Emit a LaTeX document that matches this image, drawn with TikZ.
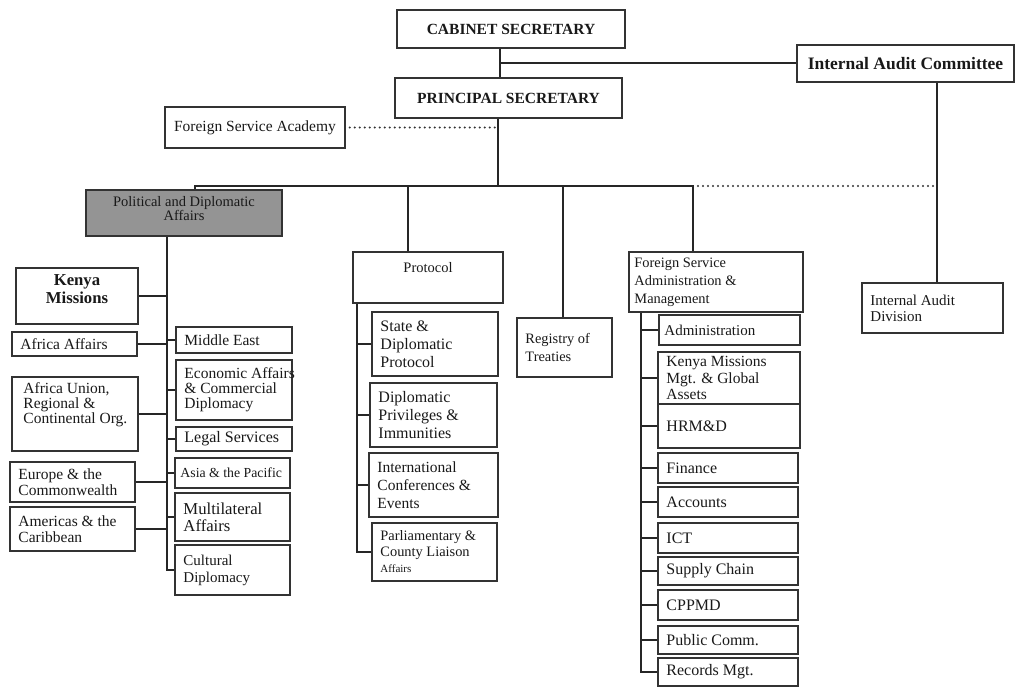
\documentclass[tikz,border=0pt]{standalone}
\usepackage{fontspec}
\setmainfont{Liberation Serif}
\newcommand\fsz[2]{\fontsize{#1}{#2}\selectfont}
\tikzset{
  box/.style={draw=black!80, line width=1.5pt, fill=white, inner sep=0pt},
  txt/.style={inner sep=0pt, align=left, text=black!90, font=\fsz{15.5}{16}},
  conn/.style={draw=black!85, line width=1.8pt},
  dots/.style={draw=black!80, line width=2.2pt, line cap=round, dash pattern=on 0pt off 5pt}
}
% box with left-aligned text
\newcommand\ubox[7][]{%
  \node[box, minimum width={(#5-#3)*1pt}, minimum height={(#6-#4)*1pt}] (#2) at ({(#3+#5)/2},{(#4+#6)/2}) {};
  \node[txt, anchor=west, #1] (#2-t) at ([xshift=9pt]#2.west) {#7};}
% box with centred text
\newcommand\cbox[7][]{%
  \node[box, minimum width={(#5-#3)*1pt}, minimum height={(#6-#4)*1pt}] (#2) at ({(#3+#5)/2},{(#4+#6)/2}) {};
  \node[txt, align=center, #1] (#2-t) at (#2.center) {#7};}
\begin{document}
\begin{tikzpicture}[x=1pt,y=-1pt]
\useasboundingbox[fill=white] (0,0) rectangle (1016,689);

% top level
\cbox[font=\bfseries\fsz{15.5}{17}]{cab}{397}{10}{625}{48}{CABINET SECRETARY}
\cbox[font=\bfseries\fsz{15.5}{17}]{ps}{395}{78}{622}{118}{PRINCIPAL SECRETARY}
\cbox[font=\bfseries\fsz{17.5}{19}]{iac}{797}{45}{1014}{82}{Internal Audit Committee}
\cbox[font=\fsz{15.5}{17}]{fsa}{165}{107}{345}{148}{Foreign Service Academy}

% Political and Diplomatic Affairs
\node[box, fill=black!42, minimum width=196pt, minimum height=46pt] (pda) at (184,213) {};
\node[txt, align=center, font=\fsz{14.5}{14}, yshift=4pt] (pda-t) at (pda.center) {Political and Diplomatic\\Affairs};
\cbox[font=\bfseries\fsz{16.7}{17.5}, yshift=7pt]{km}{16}{268}{138}{324}{Kenya\\Missions}
\ubox{afa}{12}{332}{137}{356}{Africa Affairs}
\ubox[yshift=9pt, xshift=3pt, font=\fsz{15.5}{15}]{au}{12}{377}{138}{451}{Africa Union,\\Regional \&\\Continental Org.}
\ubox{eur}{10}{462}{135}{502}{Europe \& the\\Commonwealth}
\ubox{am}{10}{507}{135}{551}{Americas \& the\\Caribbean}
\ubox{me}{176}{327}{292}{353}{Middle East}
\ubox[font=\fsz{15.5}{15}]{eco}{176}{360}{292}{420}{Economic Affairs\\\& Commercial\\Diplomacy}
\ubox[font=\fsz{16}{16}]{leg}{176}{427}{292}{451}{Legal Services}
\ubox[font=\fsz{13.8}{14}, xshift=-3pt]{asia}{175}{458}{290}{488}{Asia \& the Pacific}
\ubox[font=\fsz{16.7}{17}]{mul}{175}{493}{290}{541}{Multilateral\\Affairs}
\ubox[font=\fsz{15}{17}]{cul}{175}{545}{290}{595}{Cultural\\Diplomacy}

% Protocol
\cbox[font=\fsz{14.5}{15}, yshift=10pt]{prot}{353}{252}{503}{303}{Protocol}
\ubox[font=\fsz{16}{18}]{sdp}{372}{312}{498}{376}{State \&\\Diplomatic\\Protocol}
\ubox[font=\fsz{16}{18}]{dpi}{370}{383}{497}{447}{Diplomatic\\Privileges \&\\Immunities}
\ubox[font=\fsz{15.5}{18}]{ice}{369}{453}{498}{517}{International\\Conferences \&\\Events}
\ubox[font=\fsz{14.4}{16}]{pcl}{372}{523}{497}{581}{Parliamentary \&\\County Liaison\\{\fsz{11}{12}Affairs}}
\ubox[font=\fsz{14.4}{18}]{reg}{517}{318}{612}{377}{Registry of\\Treaties}

% Foreign Service Administration & Management
\ubox[font=\fsz{14.4}{18}, xshift=-3pt]{fsam}{629}{252}{803}{312}{Foreign Service\\Administration \&\\Management}
\ubox[font=\fsz{15}{16}, xshift=-3pt]{adm}{659}{315}{800}{345}{Administration}
\ubox[font=\fsz{15.5}{16.5}]{kmm}{658}{352}{800}{404}{Kenya Missions\\Mgt. \& Global\\Assets}
\ubox[font=\fsz{16}{17}]{hrm}{658}{404}{800}{448}{HRM\&D}
\ubox[font=\fsz{16}{17}]{fin}{658}{453}{798}{483}{Finance}
\ubox[font=\fsz{16}{17}]{acc}{658}{487}{798}{517}{Accounts}
\ubox[font=\fsz{16}{17}]{ict}{658}{523}{798}{553}{ICT}
\ubox[font=\fsz{16}{17}]{sup}{658}{557}{798}{585}{Supply Chain}
\ubox[font=\fsz{16}{17}]{cpp}{658}{590}{798}{620}{CPPMD}
\ubox[font=\fsz{16}{17}]{pub}{658}{626}{798}{654}{Public Comm.}
\ubox[font=\fsz{16}{17}]{rec}{658}{658}{798}{686}{Records Mgt.}

% Internal Audit Division
\ubox[font=\fsz{15}{16}]{iad}{862}{283}{1003}{333}{Internal Audit\\Division}

% connectors at the top
\coordinate (j0) at (500,63);
\draw[conn] (cab.south -| j0) -- (ps.north -| j0);
\draw[conn] (j0) -- (j0 -| iac.west);
\coordinate (bus) at (498,186);
\draw[conn] (ps.south -| bus) -- (bus);
\coordinate (bl) at (195,186);
\coordinate (br) at (693,186);
\draw[conn] (pda.north -| bl) -- (bl) -- (br) -- (fsam.north -| br);
\coordinate (pc) at (408,186);
\draw[conn] (pc) -- (prot.north -| pc);
\coordinate (rc) at (563,186);
\draw[conn] (rc) -- (reg.north -| rc);
\coordinate (ia) at (937,186);
\draw[conn] (iac.south -| ia) -- (iad.north -| ia);
\draw[dots] ([xshift=5pt]br) -- (ia);
\draw[dots] ([xshift=4pt]fsa.east) -- (fsa.east -| bus);

% Political and Diplomatic Affairs tree
\coordinate (pt) at (167,0);
\draw[conn] (pda.south -| pt) -- (cul.west -| pt) -- (cul.west);
\foreach \n in {km,afa,au,eur,am} \draw[conn] (\n.east) -- (\n.east -| pt);
\foreach \n in {me,eco,leg,asia,mul} \draw[conn] (\n.west) -- (\n.west -| pt);

% Protocol tree
\coordinate (qt) at (357,0);
\draw[conn] (prot.south -| qt) -- (pcl.west -| qt) -- (pcl.west);
\foreach \n in {sdp,dpi,ice} \draw[conn] (\n.west) -- (\n.west -| qt);

% FSAM tree
\coordinate (ft) at (641,0);
\draw[conn] (fsam.south -| ft) -- (rec.west -| ft) -- (rec.west);
\foreach \n in {adm,kmm,hrm,fin,acc,ict,sup,cpp,pub} \draw[conn] (\n.west) -- (\n.west -| ft);
\end{tikzpicture}
\end{document}
